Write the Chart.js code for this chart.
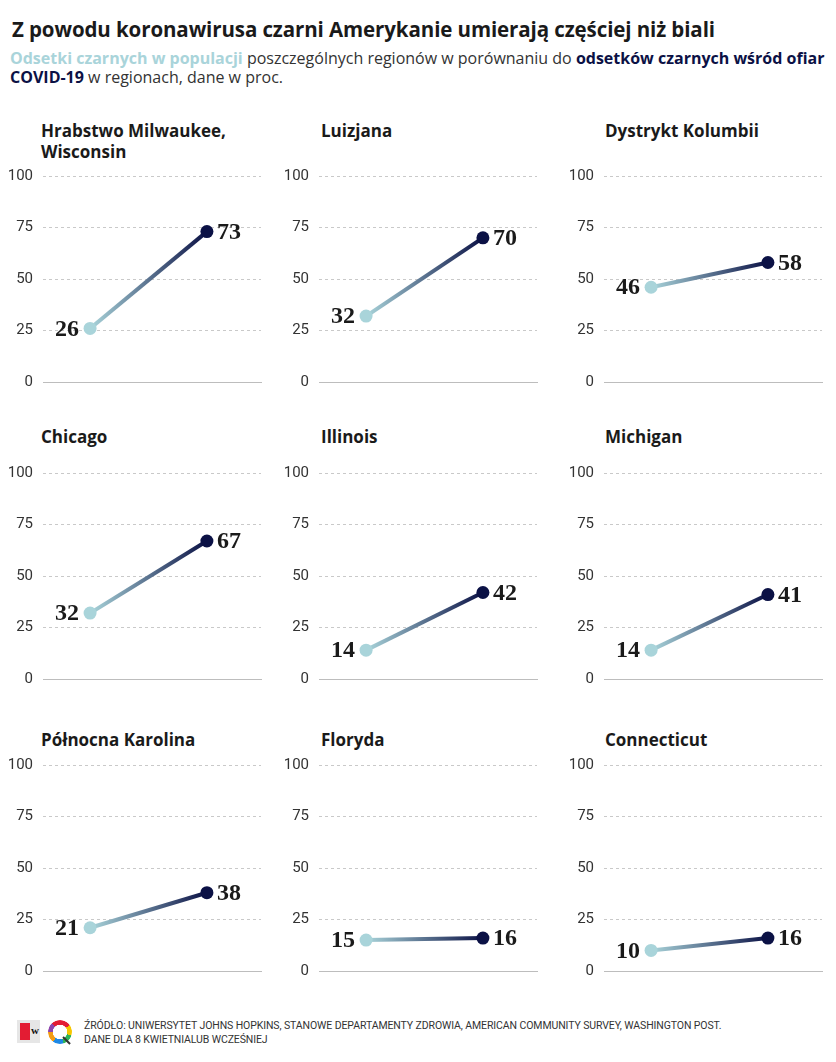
<!DOCTYPE html>
<html lang="pl">
<head>
<meta charset="utf-8">
<script src="https://cdn.jsdelivr.net/npm/chart.js@4/dist/chart.umd.min.js"></script>
<style>
  body { margin: 0; background: #fff; width: 836px; height: 1062px; position: relative; overflow: hidden; font-family: "Open Sans", Roboto, sans-serif; }
  #tytul { position: absolute; left: 12px; top: 17px; font-size: 20.5px; line-height: 24px; font-weight: 700; color: #1a1a1a; white-space: nowrap; letter-spacing: -0.1px; }
  #podtytul { position: absolute; left: 10px; top: 49px; width: 826px; font-size: 16px; line-height: 19px; color: #333; white-space: nowrap; overflow: hidden; }
  .jasny { color: #a9d4da; font-weight: 700; }
  .ciemny { color: #0b1145; font-weight: 700; }
  .nazwa { position: absolute; font-size: 17px; font-weight: 700; color: #1a1a1a; line-height: 21px; width: 215px; }
  canvas { position: absolute; }
  #zrodlo { position: absolute; left: 84px; top: 1019px; font-family: Roboto, sans-serif; font-size: 10.5px; line-height: 14px; color: #333; letter-spacing: -0.1px; }
  #logo1 { position: absolute; left: 17px; top: 1020px; width: 23px; height: 23px; background: #e6e6e6; }
  #logo1 div { position: absolute; left: 3px; top: 3px; width: 10px; height: 17px; background: #e31c33; }
  #logo1 span { position: absolute; left: 14px; top: 4px; font: bold 11px "Liberation Serif", serif; color: #111; }
  #logo2 { position: absolute; left: 48px; top: 1020px; width: 16px; height: 16px; border-radius: 50%; padding: 4px;
    background: conic-gradient(#e31c33 0 15%, #f7c600 15% 30%, #2fb457 30% 45%, #1e88e5 45% 60%, #f39c12 60% 75%, #8e44ad 75% 88%, #e31c33 88% 100%);
    -webkit-mask: radial-gradient(circle, transparent 7px, #000 7.5px); mask: radial-gradient(circle, transparent 7px, #000 7.5px); }
  #ogon { position: absolute; left: 63px; top: 1036px; width: 10px; height: 2px; background: #333; transform: rotate(45deg); transform-origin: left center; }
</style>
</head>
<body>
<div id="tytul">Z powodu koronawirusa czarni Amerykanie umierają częściej niż biali</div>
<div id="podtytul"><span class="jasny">Odsetki czarnych w populacji</span> poszczególnych regionów w porównaniu do <span class="ciemny">odsetków czarnych wśród ofiar</span><br><span class="ciemny">COVID-19</span> w regionach, dane w proc.</div>
<div id="panele"></div>
<div id="logo1"><div></div><span>w</span></div>
<div id="logo2"></div>
<div id="ogon"></div>
<div id="zrodlo">ŹRÓDŁO: UNIWERSYTET JOHNS HOPKINS, STANOWE DEPARTAMENTY ZDROWIA, AMERICAN COMMUNITY SURVEY, WASHINGTON POST.<br>DANE DLA 8 KWIETNIALUB WCZEŚNIEJ</div>
<script>
// dane
const regiony = ['Hrabstwo Milwaukee, Wisconsin', 'Luizjana', 'Dystrykt Kolumbii', 'Chicago', 'Illinois', 'Michigan', 'Północna Karolina', 'Floryda', 'Connecticut'];
const populacja = [26, 32, 46, 32, 14, 14, 21, 15, 10];
const ofiary = [73, 70, 58, 67, 42, 41, 38, 16, 16];
const etapy = ['populacja', 'ofiary'];
const skalaY = [0, 25, 50, 75, 100];

const JASNY = '#a9d4da';
const CIEMNY = '#0b1145';

// układ siatki 3x3
const kolumnyLewo = [0, 276, 561];
const kolumnyTytul = [41, 321, 605];
const wierszeGora = [176, 473, 765];
const wierszeTytul = [120, 426, 729];
const WYSOKOSC_OBSZARU = 206;

// podpisy wartości przy punktach
const podpisy = {
    id: 'podpisy',
    afterDatasetsDraw(chart) {
        const ctx = chart.ctx;
        const meta = chart.getDatasetMeta(0);
        const dane = chart.data.datasets[0].data;
        ctx.save();
        ctx.font = 'bold 24px "Liberation Serif", "DejaVu Serif", serif';
        ctx.fillStyle = '#1a1a1a';
        ctx.textBaseline = 'middle';
        meta.data.forEach((pt, i) => {
            ctx.textAlign = i === 0 ? 'right' : 'left';
            const x = i === 0 ? pt.x - 11 : pt.x + 10;
            ctx.fillText(dane[i].y, x, pt.y + 1);
        });
        ctx.restore();
    }
};

const konfiguracja = (i) => ({
    type: 'line',
    data: {
        datasets: [{
            data: etapy.map((e, j) => ({ x: j, y: j === 0 ? populacja[i] : ofiary[i] })),
            borderWidth: 4,
            borderColor: (c) => {
                const chart = c.chart;
                if (!chart.chartArea) return CIEMNY;
                const x0 = chart.scales.x.getPixelForValue(0);
                const x1 = chart.scales.x.getPixelForValue(1);
                const g = chart.ctx.createLinearGradient(x0, 0, x1, 0);
                g.addColorStop(0, JASNY);
                g.addColorStop(1, CIEMNY);
                return g;
            },
            pointBackgroundColor: [JASNY, CIEMNY],
            pointBorderWidth: 0,
            pointRadius: 6.5,
            pointHoverRadius: 6.5,
            tension: 0
        }]
    },
    options: {
        responsive: false,
        maintainAspectRatio: false,
        animation: false,
        devicePixelRatio: 1,
        layout: { padding: { top: 0, bottom: 0, left: 0, right: 14 } },
        plugins: { legend: { display: false }, tooltip: { enabled: false } },
        events: [],
        scales: {
            x: {
                type: 'linear',
                min: -0.403,
                max: 1.463,
                ticks: { display: false },
                grid: { display: false },
                border: { display: true, color: '#bdbdbd', width: 1 },
                afterFit: (s) => { s.height = 0; }
            },
            y: {
                min: 0,
                max: 100,
                afterBuildTicks: (s) => { s.ticks = skalaY.map(v => ({ value: v })); },
                afterFit: (s) => { s.width = 43; },
                ticks: {
                    padding: 10,
                    color: '#333',
                    font: { family: 'Roboto, sans-serif', size: 15 }
                },
                grid: {
                    drawTicks: false,
                    color: (c) => c.tick && c.tick.value === 0 ? 'rgba(0,0,0,0)' : '#c9c9c9',
                    lineWidth: 1
                },
                border: { display: false, dash: [3, 3] }
            }
        }
    },
    plugins: [podpisy]
});

const kontener = document.getElementById('panele');

regiony.forEach((nazwa, i) => {
    const k = i % 3, w = Math.floor(i / 3);

    const tytul = document.createElement('div');
    tytul.className = 'nazwa';
    tytul.textContent = nazwa;
    tytul.style.left = kolumnyTytul[k] + 'px';
    tytul.style.top = wierszeTytul[w] + 'px';
    kontener.appendChild(tytul);

    // pierwsze przejście: pomiar marginesów wokół obszaru wykresu
    const proba = document.createElement('canvas');
    proba.width = 275;
    proba.height = 260;
    proba.style.left = '-1000px';
    kontener.appendChild(proba);
    const pomiar = new Chart(proba, konfiguracja(i));
    const gora = pomiar.chartArea.top;
    const dol = 260 - pomiar.chartArea.bottom;
    pomiar.destroy();
    proba.remove();

    // właściwy wykres o dobranej wysokości
    const canvas = document.createElement('canvas');
    canvas.width = 275;
    canvas.height = Math.round(WYSOKOSC_OBSZARU + gora + dol);
    canvas.style.left = kolumnyLewo[k] + 'px';
    canvas.style.top = (wierszeGora[w] - gora) + 'px';
    kontener.appendChild(canvas);
    new Chart(canvas, konfiguracja(i));
});
</script>
</body>
</html>
